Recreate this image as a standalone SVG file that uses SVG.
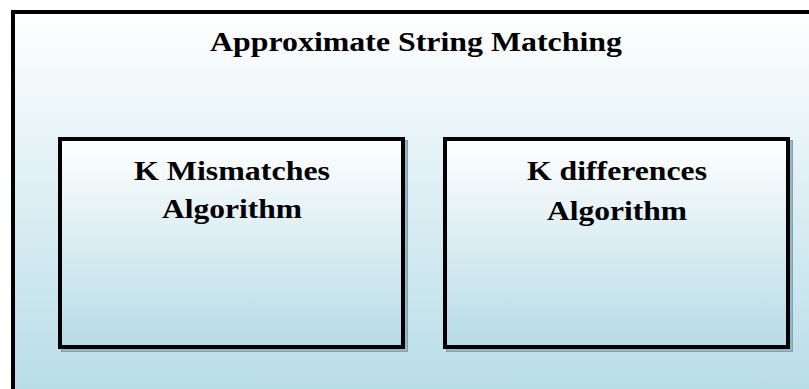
<svg xmlns="http://www.w3.org/2000/svg" width="809" height="389" viewBox="0 0 809 389">
  <defs>
    <linearGradient id="bg" x1="0" y1="0" x2="0" y2="1">
      <stop offset="0" stop-color="#ffffff"/>
      <stop offset="1" stop-color="#b6dce7"/>
    </linearGradient>
    <linearGradient id="boxFill" gradientUnits="userSpaceOnUse" x1="0" y1="139" x2="0" y2="347">
      <stop offset="0" stop-color="#ffffff"/>
      <stop offset="1" stop-color="#b6dbe6"/>
    </linearGradient>
    <style>
      .frame { fill: url(#bg); stroke: #000; stroke-width: 4; }
      .shadow { fill: none; stroke: #7ea4b1; stroke-width: 4; }
      .shadow-hi { fill: none; stroke: #a9cdd8; stroke-width: 1; }
      .box { fill: url(#boxFill); stroke: #000; stroke-width: 4; }
      .title, .label { font-family: "Liberation Serif", "Times New Roman", serif; font-weight: bold; font-size: 27px; fill: #000; text-anchor: middle; }
    </style>
  </defs>

  <g id="frame">
    <rect class="frame" x="13" y="12" width="810" height="390"/>
    <text class="title" x="416" y="51" textLength="412" lengthAdjust="spacingAndGlyphs">Approximate String Matching</text>
  </g>

  <g id="k-mismatches">
    <rect class="shadow" x="63" y="142" width="343" height="208"/>
    <rect class="shadow-hi" x="63" y="142" width="343" height="208"/>
    <rect class="box" x="60" y="139" width="343" height="208"/>
    <text class="label" x="232" y="180" textLength="196" lengthAdjust="spacingAndGlyphs">K Mismatches</text>
    <text class="label" x="232" y="218" textLength="140" lengthAdjust="spacingAndGlyphs">Algorithm</text>
  </g>

  <g id="k-differences">
    <rect class="shadow" x="448" y="142" width="343" height="208"/>
    <rect class="shadow-hi" x="448" y="142" width="343" height="208"/>
    <rect class="box" x="445" y="139" width="343" height="208"/>
    <text class="label" x="617" y="180" textLength="180" lengthAdjust="spacingAndGlyphs">K differences</text>
    <text class="label" x="617" y="220" textLength="140" lengthAdjust="spacingAndGlyphs">Algorithm</text>
  </g>

  <g id="connectors"/>
</svg>
